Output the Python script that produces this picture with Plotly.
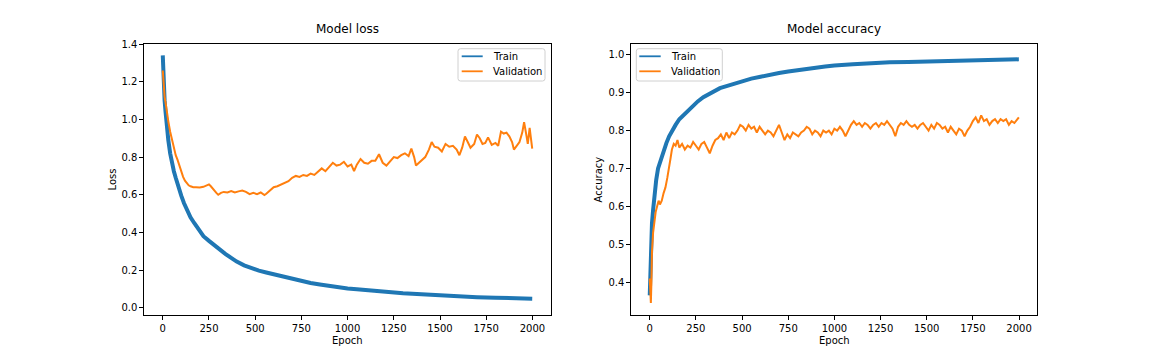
import plotly.graph_objects as go

# ---------------- data ----------------
loss_train_epochs = [0, 3, 6, 10, 15, 20, 25, 30, 40, 50, 60, 70, 80, 90, 100, 115, 130, 150, 170, 195,
                     220, 250, 280, 310, 340, 370, 400, 440, 480, 520, 560, 600, 650, 700, 750, 800,
                     850, 900, 950, 1000, 1050, 1100, 1150, 1200, 1300, 1400, 1500, 1600, 1700, 1800,
                     1900, 1999]
loss_train = [1.34, 1.24, 1.17, 1.10, 1.04, 0.98, 0.93, 0.89, 0.82, 0.765, 0.725, 0.69, 0.655, 0.625,
              0.595, 0.555, 0.52, 0.48, 0.45, 0.41, 0.38, 0.355, 0.33, 0.305, 0.285, 0.265, 0.245,
              0.225, 0.21, 0.197, 0.187, 0.178, 0.167, 0.155, 0.14, 0.131, 0.123, 0.115, 0.108,
              0.102, 0.098, 0.093, 0.088, 0.084, 0.077, 0.071, 0.065, 0.060, 0.056, 0.053, 0.050,
              0.048]

loss_val_epochs = [0, 5, 10, 15, 20, 25, 30, 40, 50, 60, 70, 80, 90, 100, 110, 120, 130, 140, 150, 165,
                   180, 200, 220, 240, 250, 260, 275, 290, 300, 315, 330, 350, 370, 390, 410, 430,
                   450, 470, 490, 510, 530, 550, 560, 580, 600, 620, 640, 660, 680, 700, 720, 740,
                   760, 780, 800, 820, 840, 860, 880, 900, 920, 940, 960, 980, 1000, 1020, 1035,
                   1050, 1070, 1090, 1110, 1130, 1150, 1170, 1190, 1210, 1230, 1250, 1270, 1290,
                   1310, 1330, 1345, 1360, 1370, 1385, 1400, 1420, 1440, 1455, 1470, 1490, 1510,
                   1530, 1550, 1570, 1590, 1605, 1620, 1635, 1650, 1665, 1685, 1700, 1715, 1730,
                   1745, 1760, 1780, 1800, 1815, 1830, 1845, 1860, 1875, 1890, 1900, 1915, 1930,
                   1945, 1955, 1965, 1975, 1985, 1992, 1999]
loss_val = [1.26, 1.18, 1.12, 1.09, 1.05, 1.02, 0.99, 0.935, 0.89, 0.855, 0.81, 0.785, 0.755, 0.72,
            0.695, 0.675, 0.66, 0.65, 0.645, 0.64, 0.64, 0.638, 0.642, 0.65, 0.655, 0.645, 0.625,
            0.61, 0.60, 0.61, 0.615, 0.612, 0.62, 0.612, 0.618, 0.622, 0.615, 0.603, 0.61, 0.603,
            0.612, 0.598, 0.605, 0.625, 0.64, 0.645, 0.655, 0.665, 0.672, 0.69, 0.70, 0.695, 0.705,
            0.70, 0.712, 0.705, 0.72, 0.74, 0.725, 0.75, 0.77, 0.755, 0.76, 0.775, 0.75, 0.76, 0.725,
            0.76, 0.79, 0.77, 0.765, 0.78, 0.78, 0.815, 0.77, 0.755, 0.78, 0.80, 0.795, 0.81, 0.82,
            0.805, 0.845, 0.80, 0.755, 0.77, 0.78, 0.80, 0.84, 0.88, 0.855, 0.85, 0.83, 0.87, 0.855,
            0.86, 0.84, 0.81, 0.85, 0.91, 0.88, 0.85, 0.87, 0.92, 0.90, 0.87, 0.875, 0.905, 0.865,
            0.875, 0.86, 0.935, 0.925, 0.93, 0.91, 0.88, 0.84, 0.86, 0.88, 0.93, 0.985, 0.93, 0.87,
            0.955, 0.88, 0.845]

acc_train_epochs = [0, 2, 4, 8, 12, 18, 25, 35, 45, 55, 65, 75, 90, 105, 120, 140, 160, 180, 200, 230,
                    260, 290, 320, 350, 380, 420, 460, 500, 550, 600, 650, 700, 750, 800, 850, 900,
                    950, 1000, 1100, 1200, 1300, 1400, 1500, 1600, 1700, 1800, 1900, 1999]
acc_train = [0.365, 0.42, 0.48, 0.53, 0.555, 0.59, 0.63, 0.67, 0.70, 0.715, 0.735, 0.75, 0.767, 0.785,
             0.80, 0.815, 0.83, 0.84, 0.85, 0.865, 0.877, 0.888, 0.897, 0.905, 0.912, 0.918, 0.924,
             0.93, 0.937, 0.942, 0.948, 0.952, 0.956, 0.96, 0.963, 0.966, 0.969, 0.972, 0.975,
             0.978, 0.98, 0.981, 0.982, 0.984, 0.985, 0.986, 0.988, 0.988]

acc_val_epochs = [0, 3, 6, 9, 12, 18, 25, 32, 40, 48, 55, 65, 75, 85, 95, 105, 112, 120, 130, 140, 150,
                  160, 175, 190, 205, 220, 235, 250, 265, 280, 295, 310, 325, 340, 355, 370, 385,
                  400, 415, 430, 445, 460, 475, 490, 505, 520, 535, 550, 565, 580, 595, 610, 625,
                  640, 655, 670, 685, 700, 715, 730, 745, 760, 775, 790, 805, 820, 835, 850, 865,
                  880, 895, 910, 925, 940, 955, 970, 985, 1000, 1015, 1030, 1045, 1060, 1075, 1090,
                  1105, 1120, 1135, 1150, 1165, 1180, 1195, 1210, 1225, 1240, 1255, 1270, 1285,
                  1300, 1315, 1330, 1345, 1360, 1375, 1390, 1405, 1420, 1435, 1450, 1465, 1480,
                  1495, 1510, 1525, 1540, 1555, 1570, 1585, 1600, 1615, 1630, 1645, 1660, 1675,
                  1690, 1705, 1720, 1735, 1750, 1765, 1780, 1795, 1810, 1825, 1840, 1855, 1870,
                  1885, 1900, 1915, 1930, 1945, 1960, 1975, 1990, 1999]
acc_val = [0.41, 0.36, 0.345, 0.40, 0.48, 0.53, 0.56, 0.585, 0.60, 0.615, 0.605, 0.615, 0.635, 0.65,
           0.675, 0.70, 0.725, 0.75, 0.765, 0.76, 0.775, 0.755, 0.765, 0.75, 0.76, 0.755, 0.77,
           0.76, 0.75, 0.765, 0.77, 0.755, 0.74, 0.76, 0.775, 0.78, 0.79, 0.775, 0.795, 0.78,
           0.795, 0.79, 0.80, 0.815, 0.81, 0.80, 0.815, 0.805, 0.81, 0.795, 0.81, 0.80, 0.79, 0.80,
           0.795, 0.785, 0.80, 0.815, 0.795, 0.775, 0.79, 0.78, 0.795, 0.79, 0.785, 0.795, 0.80,
           0.81, 0.805, 0.79, 0.80, 0.795, 0.785, 0.80, 0.795, 0.80, 0.79, 0.805, 0.80, 0.81, 0.80,
           0.785, 0.80, 0.815, 0.825, 0.815, 0.82, 0.81, 0.82, 0.815, 0.805, 0.815, 0.82, 0.81,
           0.82, 0.815, 0.825, 0.815, 0.805, 0.785, 0.81, 0.82, 0.815, 0.825, 0.815, 0.81, 0.815,
           0.805, 0.815, 0.82, 0.81, 0.80, 0.815, 0.805, 0.82, 0.815, 0.805, 0.81, 0.795, 0.81,
           0.80, 0.79, 0.805, 0.80, 0.785, 0.80, 0.81, 0.825, 0.835, 0.82, 0.84, 0.825, 0.83, 0.815,
           0.825, 0.83, 0.82, 0.83, 0.825, 0.83, 0.815, 0.825, 0.82, 0.83, 0.835]

x_ticks = [0, 250, 500, 750, 1000, 1250, 1500, 1750, 2000]
loss_ticks = [0.0, 0.2, 0.4, 0.6, 0.8, 1.0, 1.2, 1.4]
acc_ticks = [0.4, 0.5, 0.6, 0.7, 0.8, 0.9, 1.0]
series_names = ["Train", "Validation"]

BLUE = "#1f77b4"
ORANGE = "#ff7f0e"
FONT = "DejaVu Sans"
W, H = 1152, 360

fig = go.Figure()
fig.add_trace(go.Scatter(x=loss_train_epochs, y=loss_train, mode="lines", name=series_names[0],
                         line=dict(color=BLUE, width=4), xaxis="x", yaxis="y"))
fig.add_trace(go.Scatter(x=loss_val_epochs, y=loss_val, mode="lines", name=series_names[1],
                         line=dict(color=ORANGE, width=2), xaxis="x", yaxis="y"))
fig.add_trace(go.Scatter(x=acc_train_epochs, y=acc_train, mode="lines", name=series_names[0],
                         line=dict(color=BLUE, width=4), xaxis="x2", yaxis="y2"))
fig.add_trace(go.Scatter(x=acc_val_epochs, y=acc_val, mode="lines", name=series_names[1],
                         line=dict(color=ORANGE, width=2), xaxis="x2", yaxis="y2"))

# axes geometry in pixels
L1, R1 = 144.3, 550.7
L2, R2 = 631.3, 1037.3
TOP, BOT = 43.5, 315.3
ydom = [1 - BOT / H, 1 - TOP / H]


def px(x):
    return x / W


def py(y):
    return 1 - y / H


axis_common = dict(showline=True, mirror=True, linecolor="black", linewidth=1,
                   ticks="outside", ticklen=4, tickwidth=1, tickcolor="black",
                   showgrid=False, zeroline=False, automargin=False,
                   tickfont=dict(family=FONT, size=10, color="black"))

annotations = []
shapes = []

# titles and axis labels
for text, cx in [("Model loss", (L1 + R1) / 2), ("Model accuracy", (L2 + R2) / 2)]:
    annotations.append(dict(text=text, x=px(cx), y=py(38), xref="paper", yref="paper",
                            xanchor="center", yanchor="bottom", showarrow=False,
                            font=dict(family=FONT, size=12, color="black")))
for cx in [(L1 + R1) / 2, (L2 + R2) / 2]:
    annotations.append(dict(text="Epoch", x=px(cx), y=py(340), xref="paper", yref="paper",
                            xanchor="center", yanchor="middle", showarrow=False,
                            font=dict(family=FONT, size=10, color="black")))
for text, cx in [("Loss", 112), ("Accuracy", 598)]:
    annotations.append(dict(text=text, x=px(cx), y=py((TOP + BOT) / 2), xref="paper", yref="paper",
                            xanchor="center", yanchor="middle", showarrow=False, textangle=-90,
                            font=dict(family=FONT, size=10, color="black")))


# matplotlib-like legends drawn with shapes and text
def rounded_rect(x0, y0, x1, y1, r=2.5):
    pts = (f"M {px(x0 + r)},{py(y0)} L {px(x1 - r)},{py(y0)} Q {px(x1)},{py(y0)} {px(x1)},{py(y0 + r)} "
           f"L {px(x1)},{py(y1 - r)} Q {px(x1)},{py(y1)} {px(x1 - r)},{py(y1)} "
           f"L {px(x0 + r)},{py(y1)} Q {px(x0)},{py(y1)} {px(x0)},{py(y1 - r)} "
           f"L {px(x0)},{py(y0 + r)} Q {px(x0)},{py(y0)} {px(x0 + r)},{py(y0)} Z")
    return dict(type="path", path=pts, xref="paper", yref="paper",
                line=dict(color="#d0d0d0", width=1), fillcolor="rgba(255,255,255,0.8)", layer="above")


for bx0, bx1, lx0, lx1, tx in [(458, 545, 461.7, 482.7, 491), (636.3, 722.3, 639.3, 660.7, 668.7)]:
    shapes.append(rounded_rect(bx0, 48.7, bx1, 81))
    for name, color, yy in [(series_names[0], BLUE, 56.3), (series_names[1], ORANGE, 71.3)]:
        shapes.append(dict(type="line", xref="paper", yref="paper", x0=px(lx0), x1=px(lx1),
                           y0=py(yy), y1=py(yy), line=dict(color=color, width=1.8), layer="above"))
        annotations.append(dict(text=name, x=px(tx), y=py(yy), xref="paper", yref="paper",
                                xanchor="left", yanchor="middle", showarrow=False,
                                font=dict(family=FONT, size=10, color="black")))

fig.update_layout(
    width=W, height=H,
    margin=dict(l=0, r=0, t=0, b=0),
    paper_bgcolor="white", plot_bgcolor="white",
    font=dict(family=FONT, size=10, color="black"),
    showlegend=False,
    xaxis=dict(domain=[px(L1), px(R1)], anchor="y", range=[-99.95, 2098.95],
               tickvals=x_ticks, **axis_common),
    yaxis=dict(domain=ydom, anchor="x", range=[-0.0405, 1.4035], tickvals=loss_ticks,
               tickformat=".1f", **axis_common),
    xaxis2=dict(domain=[px(L2), px(R2)], anchor="y2", range=[-99.95, 2098.95],
                tickvals=x_ticks, **axis_common),
    yaxis2=dict(domain=ydom, anchor="x2", range=[0.3125, 1.0298], tickvals=acc_ticks,
                tickformat=".1f", **axis_common),
    annotations=annotations,
    shapes=shapes,
)

fig.write_html("out.html", config={"displayModeBar": False},
               post_script="document.body.style.margin='0';document.body.style.padding='0';"
                           "document.documentElement.style.margin='0';")
